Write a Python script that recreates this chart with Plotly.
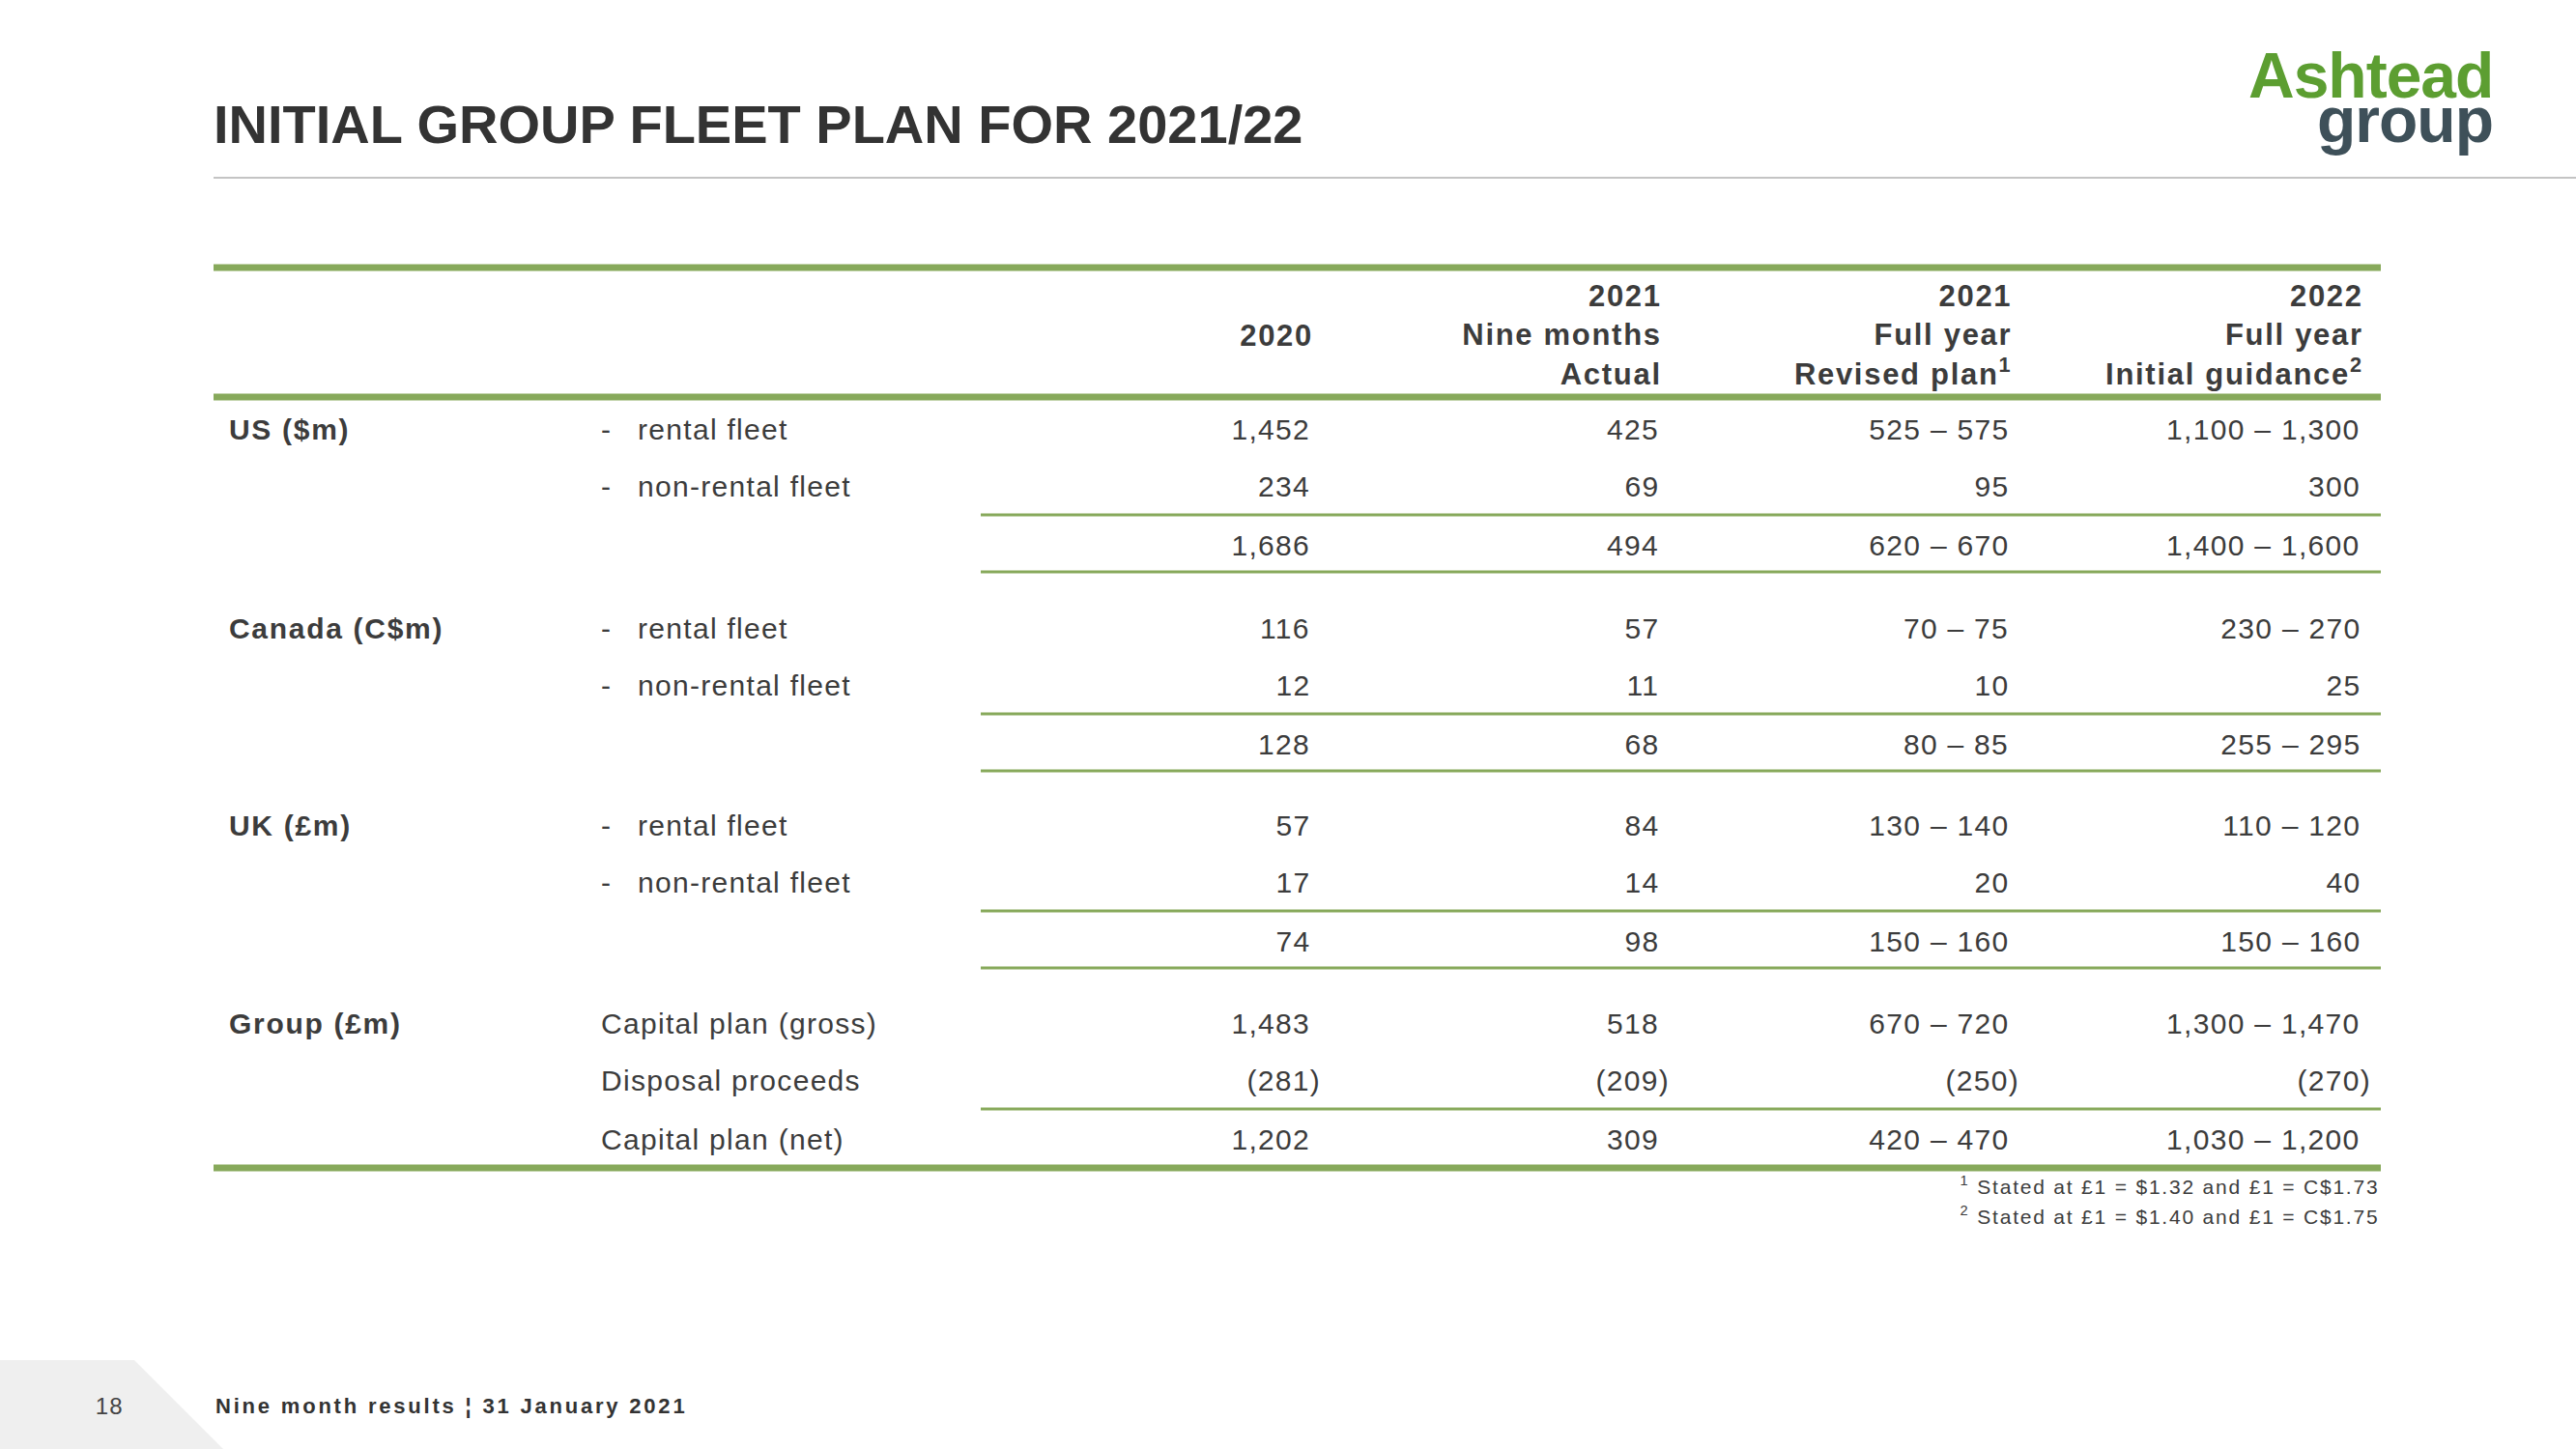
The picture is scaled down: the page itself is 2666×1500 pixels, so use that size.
import plotly.graph_objects as go

W, H = 2666, 1500

# column headers (top line, middle line, bottom line)
col_years = ["2020", "2021", "2021", "2022"]
col_line2 = ["", "Nine months", "Full year", "Full year"]
col_line3 = ["", "Actual", "Revised plan<sup>1</sup>", "Initial guidance<sup>2</sup>"]

# sections and row labels
sections = ["US ($m)", "Canada (C$m)", "UK (£m)", "Group (£m)"]
row_items = ["rental fleet", "non-rental fleet", "",
             "rental fleet", "non-rental fleet", "",
             "rental fleet", "non-rental fleet", "",
             "Capital plan (gross)", "Disposal proceeds", "Capital plan (net)"]
row_dash = [True, True, False] * 3 + [False, False, False]

# values per column
v2020 = ["1,452", "234", "1,686", "116", "12", "128", "57", "17", "74", "1,483", "(281)", "1,202"]
v2021_9m = ["425", "69", "494", "57", "11", "68", "84", "14", "98", "518", "(209)", "309"]
v2021_fy = ["525 – 575", "95", "620 – 670", "70 – 75", "10", "80 – 85",
            "130 – 140", "20", "150 – 160", "670 – 720", "(250)", "420 – 470"]
v2022_fy = ["1,100 – 1,300", "300", "1,400 – 1,600", "230 – 270", "25", "255 – 295",
            "110 – 120", "40", "150 – 160", "1,300 – 1,470", "(270)", "1,030 – 1,200"]
columns = [v2020, v2021_9m, v2021_fy, v2022_fy]

footnotes = ["<sup>1</sup> Stated at £1 = $1.32 and £1 = C$1.73",
             "<sup>2</sup> Stated at £1 = $1.40 and £1 = C$1.75"]

# layout constants (pixels)
FONT = "Liberation Sans, Arial, sans-serif"
TXT = "#3c3c3c"
GREEN = "#87a95b"
col_x = [1358, 1719, 2081, 2445]
sec_y = [444, 650, 854, 1059]
row_dy = [0, 59.5, 120]
x_left, x_mid, x_right = 221, 1015, 2464

fig = go.Figure()
ann = []
shapes = []


def txt(x, y, s, size, bold=False, xa="left", color=TXT, ya="middle"):
    ann.append(dict(x=x, y=y, xref="x", yref="y", text=s, showarrow=False,
                    xanchor=xa, yanchor=ya, align=xa,
                    font=dict(family=FONT, size=size, color=color,
                              weight="bold" if bold else "normal")))


def hline(y, x0, x1, w, color=GREEN):
    shapes.append(dict(type="line", xref="x", yref="y", x0=x0, x1=x1, y0=y, y1=y,
                       line=dict(color=color, width=w)))


# title and rule
txt(219, 128, "INITIAL GROUP FLEET PLAN FOR 2021/22", 56, bold=True, color="#333333")
hline(184, 221, W, 2, "#c4c4c4")

# logo
txt(2582, 78, "Ashtead", 66, bold=True, xa="right", color="#5c9e31")
txt(2582, 124, "group", 66, bold=True, xa="right", color="#3e5059")

# header
for i in range(4):
    if col_line2[i]:
        s = col_years[i] + "<br>" + col_line2[i] + "<br>" + col_line3[i]
    else:
        s = col_years[i]
    txt(col_x[i] + 3, 347, s, 31, bold=True, xa="right")

hline(277, x_left, x_right, 7)
hline(411, x_left, x_right, 7)

# body
for si, sec in enumerate(sections):
    txt(235, sec_y[si], sec, 30, bold=True)
    for r in range(3):
        k = si * 3 + r
        y = sec_y[si] + row_dy[r]
        if row_items[k]:
            if row_dash[k]:
                txt(620, y, "-", 30)
                txt(658, y, row_items[k], 30)
            else:
                txt(620, y, row_items[k], 30)
        for c in range(4):
            s = columns[c][k]
            x = col_x[c] + (11 if s.startswith("(") else 0)
            txt(x, y, s, 30, xa="right")
    hline(sec_y[si] + 89, x_mid, x_right, 3)
    if si < 3:
        hline(sec_y[si] + 148, x_mid, x_right, 3)

hline(1209, x_left, x_right, 7)

# footnotes
txt(2464, 1227, footnotes[0], 21, xa="right")
txt(2464, 1258, footnotes[1], 21, xa="right")

# footer
shapes.append(dict(type="path", xref="x", yref="y",
                   path="M 0 1408 L 139 1408 L 231 1500 L 0 1500 Z",
                   fillcolor="#efefef", line=dict(width=0), layer="below"))
txt(113, 1455, "18", 24, xa="center", color="#444444")
txt(221, 1455, "Nine month results ¦ 31 January 2021", 22, bold=True, color="#333333")

fig.update_layout(
    width=W, height=H, margin=dict(l=0, r=0, t=0, b=0),
    paper_bgcolor="white", plot_bgcolor="white",
    xaxis=dict(range=[0, W], visible=False, fixedrange=True),
    yaxis=dict(range=[H, 0], visible=False, fixedrange=True),
    annotations=ann, shapes=shapes, showlegend=False,
)

# page margin off, and the slide's slightly tracked-out lettering
post = """
var s = document.createElement('style');
s.innerHTML = 'body{margin:0}' +
  ' .annotation-text{letter-spacing:1.3px}' +
  ' text.annotation-text[style*="bold"]{letter-spacing:1.7px}' +
  ' text.annotation-text[data-unformatted^="<sup>"]{letter-spacing:1.8px}' +
  ' text.annotation-text[data-unformatted^="INITIAL"]{letter-spacing:0}' +
  ' text.annotation-text[data-unformatted^="Nine month "]{letter-spacing:2.8px}' +
  ' text.annotation-text[data-unformatted="Ashtead"], text.annotation-text[data-unformatted="group"]{letter-spacing:-1px}';
document.head.appendChild(s);
"""
fig.write_html("out.html", post_script=post, config={"displayModeBar": False})
